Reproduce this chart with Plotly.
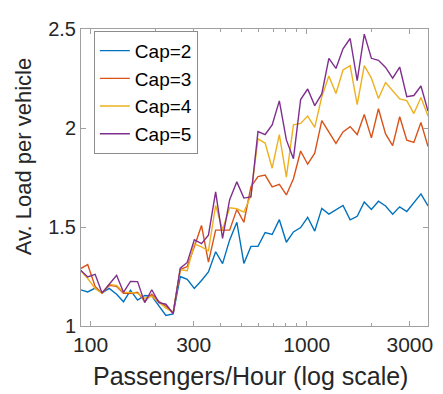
import plotly.graph_objects as go

# Passengers per hour (x, log scale)
passengers = [90, 97, 105, 113, 122, 132, 142, 153, 165, 178,
              192, 207, 223, 241, 260, 280, 302, 326, 351, 379,
              408, 440, 475, 512, 552, 595, 642, 692, 747, 805,
              868, 937, 1010, 1089, 1174, 1266, 1365, 1472, 1588, 1712,
              1846, 1991, 2147, 2316, 2497, 2692, 2903, 3130, 3376, 3640]

cap2 = [1.183, 1.172, 1.191, 1.167, 1.19, 1.16, 1.122, 1.180, 1.131, 1.154,
        1.151, 1.10, 1.053, 1.061, 1.25, 1.236, 1.19, 1.23, 1.273, 1.375,
        1.315, 1.435, 1.524, 1.316, 1.402, 1.402, 1.472, 1.462, 1.537, 1.423,
        1.475, 1.497, 1.549, 1.479, 1.594, 1.565, 1.589, 1.609, 1.536, 1.554,
        1.626, 1.589, 1.630, 1.606, 1.565, 1.602, 1.578, 1.622, 1.667, 1.606]

cap3 = [1.29, 1.31, 1.20, 1.165, 1.205, 1.20, 1.165, 1.165, 1.17, 1.125,
        1.16, 1.125, 1.10, 1.065, 1.285, 1.30, 1.40, 1.508, 1.323, 1.484,
        1.484, 1.484, 1.589, 1.524, 1.703, 1.755, 1.762, 1.703, 1.715, 1.662,
        1.744, 1.884, 1.817, 1.873, 2.037, 1.979, 1.922, 1.980, 2.007, 1.967,
        2.068, 1.950, 2.097, 1.970, 1.911, 2.057, 1.938, 1.927, 2.028, 1.906]

cap4 = [1.28, 1.24, 1.19, 1.165, 1.21, 1.205, 1.17, 1.17, 1.165, 1.14,
        1.15, 1.12, 1.09, 1.07, 1.284, 1.279, 1.415, 1.40, 1.38, 1.609,
        1.486, 1.597, 1.592, 1.575, 1.66, 1.945, 1.924, 1.797, 1.967, 1.752,
        2.016, 2.023, 2.060, 2.003, 2.158, 2.263, 2.174, 2.293, 2.315, 2.118,
        2.315, 2.252, 2.149, 2.230, 2.190, 2.147, 2.138, 2.073, 2.154, 2.060]

cap5 = [1.282, 1.248, 1.261, 1.167, 1.211, 1.256, 1.170, 1.225, 1.224, 1.118,
        1.183, 1.118, 1.110, 1.063, 1.292, 1.321, 1.436, 1.416, 1.459, 1.677,
        1.442, 1.638, 1.728, 1.646, 1.652, 1.982, 1.967, 2.015, 2.137, 1.940,
        1.845, 2.144, 2.197, 2.113, 2.172, 2.352, 2.301, 2.400, 2.452, 2.239,
        2.474, 2.352, 2.342, 2.306, 2.252, 2.308, 2.158, 2.164, 2.212, 2.085]

series_names = ["Cap=2", "Cap=3", "Cap=4", "Cap=5"]
series_values = [cap2, cap3, cap4, cap5]
colors = ["#0072BD", "#D95319", "#EDB120", "#7E2F8E"]

x_tick_vals = [100, 300, 1000, 3000]
x_tick_text = ["100", "300", "1000", "3000"]
x_minor_vals = [200, 400, 500, 600, 700, 800, 900, 2000]
y_tick_vals = [1, 1.5, 2, 2.5]
y_tick_text = ["1", "1.5", "2", "2.5"]

x_title = "Passengers/Hour (log scale)"
y_title = "Av. Load per vehicle"

fig = go.Figure()
for name, vals, col in zip(series_names, series_values, colors):
    fig.add_trace(go.Scatter(x=passengers, y=vals, mode="lines", name=name,
                             line=dict(color=col, width=1.4)))

font_family = "Liberation Sans, Arial, Helvetica, sans-serif"
axis_color = "#a0a0a0"
text_color = "#262626"
fig.update_layout(
    width=435, height=386,
    margin=dict(l=73, r=10, t=10, b=68),
    paper_bgcolor="white", plot_bgcolor="white",
    font=dict(family=font_family, color=text_color),
    showlegend=True,
    legend=dict(x=0.037, y=0.994, xanchor="left", yanchor="top",
                bgcolor="white", bordercolor="#8c8c8c", borderwidth=1,
                font=dict(size=19, color="black"), tracegroupgap=0,
                itemwidth=30),
    xaxis=dict(type="log", range=[1.9558, 3.5610],
               tickmode="array", tickvals=x_tick_vals, ticktext=x_tick_text,
               ticks="inside", ticklen=5, tickcolor=axis_color,
               minor=dict(tickmode="array", tickvals=x_minor_vals,
                          ticks="inside", ticklen=3, tickcolor=axis_color),
               showline=True, linecolor=axis_color, linewidth=1, mirror="ticks",
               showgrid=False, zeroline=False,
               tickfont=dict(size=21, color=text_color)),
    yaxis=dict(range=[1, 2.5],
               tickmode="array", tickvals=y_tick_vals, ticktext=y_tick_text,
               ticks="inside", ticklen=5, tickcolor=axis_color,
               showline=True, linecolor=axis_color, linewidth=1, mirror="ticks",
               showgrid=False, zeroline=False,
               tickfont=dict(size=20, color=text_color)),
    annotations=[
        dict(text=x_title, xref="paper", yref="paper", x=0.489, y=-0.169,
             xanchor="center", yanchor="middle", showarrow=False,
             font=dict(size=25, color=text_color)),
        dict(text=y_title, xref="paper", yref="paper", x=-0.165, y=0.571,
             xanchor="center", yanchor="middle", showarrow=False, textangle=-90,
             font=dict(size=22, color=text_color)),
    ],
)

fig.write_html("out.html")
